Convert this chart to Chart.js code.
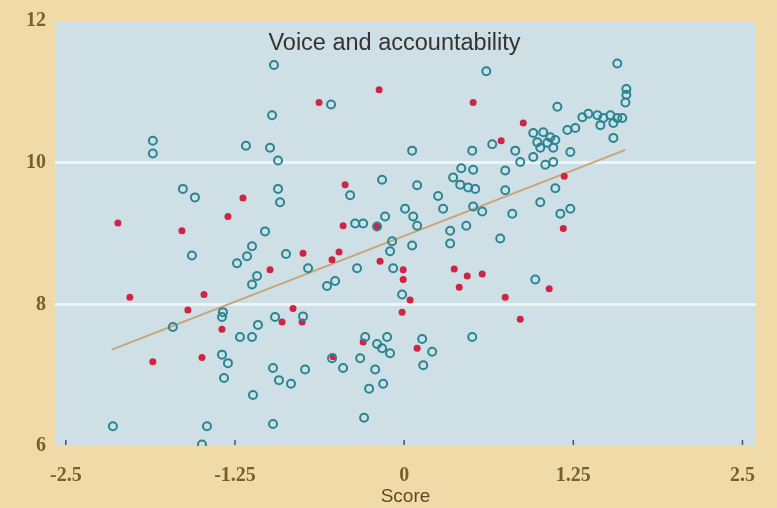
<!DOCTYPE html>
<html>
<head>
<meta charset="utf-8">
<script src="https://cdn.jsdelivr.net/npm/chart.js@4/dist/chart.umd.min.js"></script>
<style>
  html, body { margin: 0; padding: 0; background: #f0dba8; }
  #wrap { width: 777px; height: 508px; }
</style>
</head>
<body>
<div id="wrap"><canvas id="c" width="777" height="508"></canvas></div>
<script>
// Governance score (x) against outcome index (y)
const chartTitle = 'Voice and accountability';
const xAxisTitle = 'Score';
const xTickValues = [-2.5, -1.25, 0, 1.25, 2.5];
const xTickLabels = ['-2.5', '-1.25', '0', '1.25', '2.5'];
const yTickValues = [6, 8, 10, 12];

// Open-circle group: [score, index]
const tealPoints = [
  [-1.857,10.31],[-1.857,10.13],[-1.169,10.24],[-0.962,11.38],[-0.540,10.82],[0.607,11.29],
  [-0.976,10.67],[-0.991,10.21],[-0.932,10.03],[0.059,10.17],[0.503,10.17],[0.651,10.26],
  [0.422,9.92],[0.510,9.90],[0.747,9.89],[1.575,11.40],[1.642,11.04],[1.642,10.96],
  [1.635,10.85],[1.132,10.79],[1.317,10.64],[1.361,10.69],[1.428,10.67],[1.472,10.63],
  [1.524,10.67],[1.575,10.63],[1.612,10.63],[1.450,10.53],[1.546,10.56],[1.265,10.49],
  [1.206,10.46],[1.546,10.35],[0.954,10.42],[1.028,10.43],[1.080,10.36],[0.984,10.29],
  [1.058,10.28],[1.117,10.32],[1.006,10.21],[1.102,10.21],[1.228,10.15],[0.821,10.17],
  [0.954,10.08],[0.858,10.01],[1.043,9.97],[1.102,10.01],[0.747,9.61],[1.117,9.64],
  [1.006,9.44],[0.799,9.28],[1.154,9.28],[1.228,9.35],[0.710,8.93],[0.969,8.35],
  [-1.635,9.63],[-1.546,9.51],[-1.568,8.69],[-1.124,8.82],[-1.161,8.68],[-1.235,8.58],
  [-1.124,8.28],[-1.087,8.40],[-1.339,7.89],[-1.346,7.82],[-1.709,7.68],[-1.080,7.71],
  [-1.213,7.54],[-1.124,7.54],[-1.346,7.29],[-1.302,7.17],[-1.331,6.96],[-1.117,6.72],
  [-2.152,6.28],[-1.457,6.28],[-1.494,6.02],[-0.399,9.54],[-0.163,9.76],[0.096,9.68],
  [0.251,9.53],[0.362,9.79],[0.414,9.69],[0.473,9.65],[0.525,9.63],[-0.932,9.63],
  [-0.917,9.44],[0.007,9.35],[0.067,9.24],[0.096,9.11],[0.288,9.35],[0.510,9.38],
  [0.577,9.31],[0.459,9.11],[0.340,9.04],[0.340,8.86],[-0.362,9.14],[-0.303,9.14],
  [-0.200,9.10],[-0.141,9.24],[-1.028,9.03],[-0.089,8.89],[-0.104,8.75],[0.059,8.83],
  [-0.873,8.71],[-0.710,8.51],[-0.348,8.51],[-0.081,8.51],[-0.570,8.26],[-0.510,8.33],
  [-0.015,8.14],[-0.954,7.82],[-0.747,7.83],[-0.288,7.54],[-0.126,7.54],[-0.200,7.44],
  [-0.163,7.38],[-0.104,7.31],[0.133,7.51],[0.207,7.33],[0.503,7.54],[-0.533,7.24],
  [-0.451,7.10],[-0.325,7.24],[-0.214,7.08],[0.141,7.14],[-0.155,6.88],[-0.259,6.81],
  [-0.969,7.10],[-0.925,6.93],[-0.836,6.88],[-0.732,7.08],[-0.969,6.31],[-0.296,6.40]
];

// Filled-dot group: [score, index]
const redPoints = [
  [-0.629,10.85],[-0.185,11.03],[0.510,10.85],[0.717,10.31],[0.880,10.56],[1.183,9.81],
  [-1.191,9.50],[-2.115,9.15],[-1.302,9.24],[-1.642,9.04],[-2.027,8.10],[-1.479,8.14],
  [-1.598,7.92],[-1.346,7.65],[-1.857,7.19],[-1.494,7.25],[-0.436,9.69],[-0.451,9.11],
  [-0.747,8.72],[-0.481,8.74],[-0.533,8.63],[-0.178,8.61],[-0.991,8.49],[-0.007,8.49],
  [-0.007,8.35],[0.044,8.06],[-0.015,7.89],[0.370,8.50],[0.466,8.40],[0.577,8.43],
  [0.407,8.24],[0.747,8.10],[-0.821,7.94],[-0.902,7.75],[-0.754,7.75],[-0.303,7.47],
  [0.096,7.38],[-0.525,7.26],[1.176,9.07],[1.072,8.22],[0.858,7.79],[-0.200,9.10]
];

// Fitted trend line end points
const trendX = [-2.16, 1.635];
const trendY = [7.36, 10.18];

const toXY = arr => arr.map(([x, y]) => ({ x, y }));

const plotBackground = {
  id: 'plotBackground',
  beforeDraw(chart) {
    const { ctx, chartArea: a } = chart;
    ctx.save();
    ctx.fillStyle = '#f0dba8';
    ctx.fillRect(0, 0, chart.width, chart.height);
    ctx.fillStyle = '#cfdfe6';
    ctx.fillRect(a.left, a.top, a.right - a.left, a.bottom - a.top);
    ctx.restore();
  }
};

// Short tick marks standing up from the bottom edge, plus the inset title
const decorations = {
  id: 'decorations',
  afterDatasetsDraw(chart) {
    const { ctx, chartArea: a, scales } = chart;
    ctx.save();
    ctx.strokeStyle = '#3e5868';
    ctx.lineWidth = 1.5;
    scales.x.ticks.forEach((t, i) => {
      const px = scales.x.getPixelForTick(i);
      ctx.beginPath();
      ctx.moveTo(px, a.bottom - 1);
      ctx.lineTo(px, a.bottom - 6);
      ctx.stroke();
    });
    ctx.fillStyle = '#333333';
    ctx.font = '23.5px "Liberation Sans", Arial, sans-serif';
    ctx.textAlign = 'center';
    ctx.textBaseline = 'alphabetic';
    ctx.fillText(chartTitle, (a.left + a.right) / 2 - 11, a.top + 29);
    ctx.restore();
  }
};

new Chart(document.getElementById('c'), {
  type: 'scatter',
  data: {
    datasets: [
      {
        label: 'open',
        data: toXY(tealPoints),
        order: 1,
        pointStyle: 'circle',
        pointRadius: 4,
        pointBorderWidth: 2,
        borderColor: '#2a8593',
        backgroundColor: 'rgba(0,0,0,0)',
        pointHoverRadius: 4
      },
      {
        label: 'filled',
        data: toXY(redPoints),
        order: 2,
        pointRadius: 3.5,
        pointBorderWidth: 0,
        borderColor: '#cf2443',
        backgroundColor: '#cf2443'
      },
      {
        type: 'line',
        label: 'trend',
        data: trendX.map((x, i) => ({ x, y: trendY[i] })),
        order: 3,
        borderColor: '#c9a476',
        borderWidth: 2,
        pointRadius: 0,
        fill: false
      }
    ]
  },
  options: {
    responsive: false,
    animation: false,
    layout: { padding: { top: 14, right: 21, left: 0, bottom: 0 } },
    plugins: { legend: { display: false }, tooltip: { enabled: false } },
    scales: {
      x: {
        type: 'linear',
        min: -2.58,
        max: 2.6,
        afterBuildTicks: s => { s.ticks = xTickValues.map(v => ({ value: v })); },
        afterFit: s => { s.height = 62; },
        border: { display: false },
        grid: { display: false },
        ticks: {
          padding: 10,
          color: '#76602c',
          font: { family: '"Liberation Serif", serif', size: 20, weight: 'bold' },
          callback: (v) => xTickLabels[xTickValues.indexOf(v)]
        },
        title: {
          display: true,
          text: xAxisTitle,
          color: '#5c4a26',
          font: { family: '"Liberation Sans", Arial, sans-serif', size: 19 },
          padding: { top: 0, bottom: 0 }
        }
      },
      y: {
        type: 'linear',
        min: 6,
        max: 12,
        afterBuildTicks: s => { s.ticks = yTickValues.map(v => ({ value: v })); },
        afterFit: s => { s.width = 55; },
        border: { display: false },
        grid: {
          drawTicks: false,
          lineWidth: 3,
          color: ctx => (ctx.tick && (ctx.tick.value === 8 || ctx.tick.value === 10)) ? 'rgba(240,246,248,0.95)' : 'rgba(0,0,0,0)'
        },
        ticks: {
          padding: 9,
          color: '#76602c',
          font: { family: '"Liberation Serif", serif', size: 20, weight: 'bold' }
        }
      }
    }
  },
  plugins: [plotBackground, decorations]
});
</script>
</body>
</html>
